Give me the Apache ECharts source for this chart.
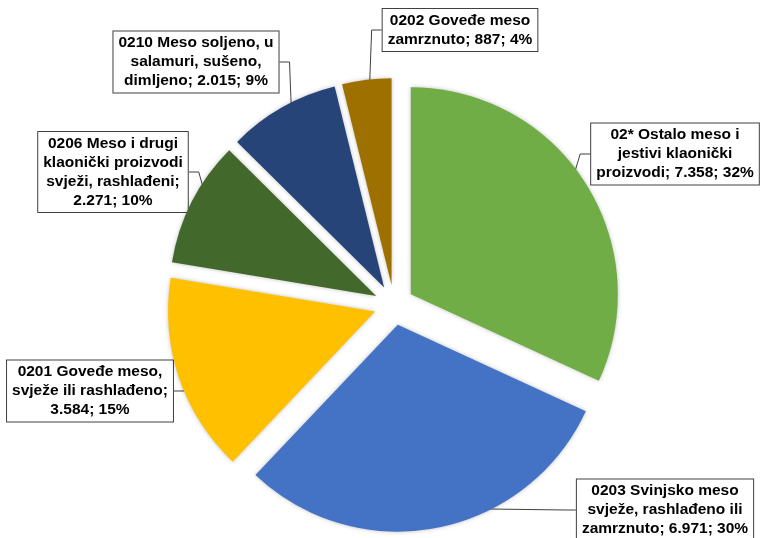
<!DOCTYPE html>
<html>
<head>
<meta charset="utf-8">
<script src="https://cdn.jsdelivr.net/npm/echarts@6/dist/echarts.min.js"></script>
<style>
html,body{margin:0;padding:0;background:#fff;}
#chart{width:761px;height:538px;}
</style>
</head>
<body>
<div id="chart"></div>
<script>
// Data
var categories = [
  "02* Ostalo meso i\njestivi klaonički\nproizvodi",
  "0203 Svinjsko meso\nsvježe, rashlađeno ili\nzamrznuto",
  "0201 Goveđe meso,\nsvježe ili rashlađeno",
  "0206 Meso i drugi\nklaonički proizvodi\nsvježi, rashlađeni",
  "0210 Meso soljeno, u\nsalamuri, sušeno,\ndimljeno",
  "0202 Goveđe meso\nzamrznuto"
];
var values = [7358, 6971, 3584, 2271, 2015, 887];

// Styles / layout
var colors = ["#70AD47", "#4472C4", "#FFC000", "#43682B", "#264478", "#9E7000"];
var breakBeforeValue = [false, false, true, true, false, false];
var labelCenters = [[675, 154], [665, 510], [90, 391], [113, 172], [196, 62], [460, 30]];

function fmt(n) {
  return String(n).replace(/\B(?=(\d{3})+(?!\d))/g, ".");
}

var pieCenter = [394, 305];
var pieRadius = [0, 207];

var chart = echarts.init(document.getElementById('chart'));
chart.setOption({
  animation: false,
  backgroundColor: '#fff',
  series: [
    {
      // label carrier (hidden sectors, drawn underneath)
      type: 'pie',
      z: 1,
      silent: true,
      center: pieCenter,
      radius: pieRadius,
      startAngle: 90,
      clockwise: true,
      percentPrecision: 0,
      avoidLabelOverlap: false,
      emphasis: { disabled: true },
      itemStyle: { color: 'rgba(0,0,0,0)', borderWidth: 0 },
      data: values.map(function (v, i) { return { name: categories[i], value: v }; }),
      label: {
        show: true,
        formatter: function (p) {
          var sep = breakBeforeValue[p.dataIndex] ? ';\n' : '; ';
          return p.name + sep + fmt(p.value) + '; ' + p.percent + '%';
        },
        fontFamily: '"Liberation Sans", Arial, sans-serif',
        fontWeight: 'bold',
        fontSize: 15.5,
        lineHeight: 19,
        color: '#000',
        align: 'center',
        backgroundColor: '#fff',
        borderColor: '#404040',
        borderWidth: 1,
        padding: [2, 5, 2, 5]
      },
      labelLine: {
        show: true,
        length: 10,
        length2: 10,
        lineStyle: { color: '#404040', width: 1 }
      },
      labelLayout: function (params) {
        var c = labelCenters[params.dataIndex];
        return { x: c[0], y: c[1], align: 'center', verticalAlign: 'middle' };
      }
    },
    {
      // visible exploded pie
      type: 'pie',
      z: 2,
      center: pieCenter,
      radius: pieRadius,
      startAngle: 90,
      clockwise: true,
      selectedMode: 'multiple',
      selectedOffset: 20,
      emphasis: { disabled: true },
      label: { show: false },
      labelLine: { show: false },
      itemStyle: {
        borderWidth: 0,
        shadowBlur: 4,
        shadowColor: 'rgba(0,0,0,0.25)'
      },
      data: values.map(function (v, i) {
        return {
          name: categories[i],
          value: v,
          selected: true,
          itemStyle: { color: colors[i] }
        };
      })
    }
  ]
});
</script>
</body>
</html>
